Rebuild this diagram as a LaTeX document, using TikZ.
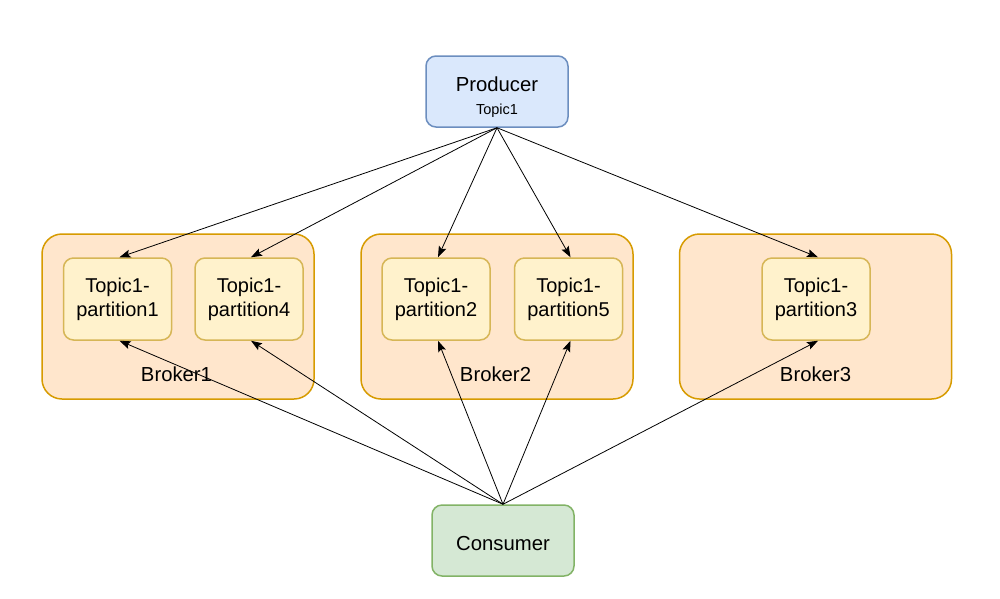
\documentclass[tikz,border=0pt]{standalone}
\usepackage{fontspec}
\setmainfont{Liberation Sans}
\usetikzlibrary{arrows.meta}
\definecolor{prodfill}{HTML}{DAE8FC}
\definecolor{prodline}{HTML}{6C8EBF}
\definecolor{brokfill}{HTML}{FFE6CC}
\definecolor{brokline}{HTML}{D79B00}
\definecolor{partfill}{HTML}{FFF2CC}
\definecolor{partline}{HTML}{D6B656}
\definecolor{consfill}{HTML}{D5E8D4}
\definecolor{consline}{HTML}{82B366}
\begin{document}
\begin{tikzpicture}[x=1pt,y=-1pt,
  box/.style={rectangle,rounded corners=10pt,line width=1.5pt,inner sep=0pt,align=center,font=\fontsize{20}{24}\selectfont},
  prodbox/.style={box,fill=prodfill,draw=prodline,minimum width=142pt,minimum height=71pt},
  consbox/.style={box,fill=consfill,draw=consline,minimum width=142pt,minimum height=71pt},
  brokbox/.style={box,rounded corners=20pt,fill=brokfill,draw=brokline,minimum width=272pt,minimum height=165pt},
  partbox/.style={box,fill=partfill,draw=partline,minimum width=108pt,minimum height=82pt},
  lbl/.style={inner sep=0pt,anchor=base,font=\fontsize{20.3}{24}\selectfont},
  small/.style={inner sep=0pt,anchor=base,font=\fontsize{14.5}{17}\selectfont},
  arr/.style={-{Stealth[length=11pt,width=8pt,inset=2pt]},line width=0.8pt}]
\useasboundingbox (0,0) rectangle (1000,598);
\fill[white] (0,0) rectangle (1000,598);
\node[prodbox] (prod) at (497,91.5) {};
\node[lbl] (prodt) at (497,91) {Producer};
\node[small] (prods) at (497,114) {Topic1};
\node[consbox] (cons) at (503,540.5) {};
\node[lbl] (const) at (503,550) {Consumer};
\node[brokbox] (b1) at (178,316.5) {};
\node[brokbox] (b2) at (497,316.5) {};
\node[brokbox] (b3) at (815.5,316.5) {};
\node[lbl] (b1l) at (176.5,381) {Broker1};
\node[lbl] (b2l) at (495.5,381) {Broker2};
\node[lbl] (b3l) at (815.5,381) {Broker3};
\node[partbox] (p1) at (117.5,299) {\raisebox{-2pt}{Topic1-}\\\raisebox{-2pt}{partition1}};
\node[partbox] (p4) at (249,299) {\raisebox{-2pt}{Topic1-}\\\raisebox{-2pt}{partition4}};
\node[partbox] (p2) at (436,299) {\raisebox{-2pt}{Topic1-}\\\raisebox{-2pt}{partition2}};
\node[partbox] (p5) at (568.5,299) {\raisebox{-2pt}{Topic1-}\\\raisebox{-2pt}{partition5}};
\node[partbox] (p3) at (816,299) {\raisebox{-2pt}{Topic1-}\\\raisebox{-2pt}{partition3}};
\foreach \p in {p1,p4,p2,p5,p3}{
  \draw[arr] (prod.south) -- ([xshift=2pt]\p.north);
  \draw[arr] (cons.north) -- ([xshift=2pt]\p.south);
}
\end{tikzpicture}
\end{document}
